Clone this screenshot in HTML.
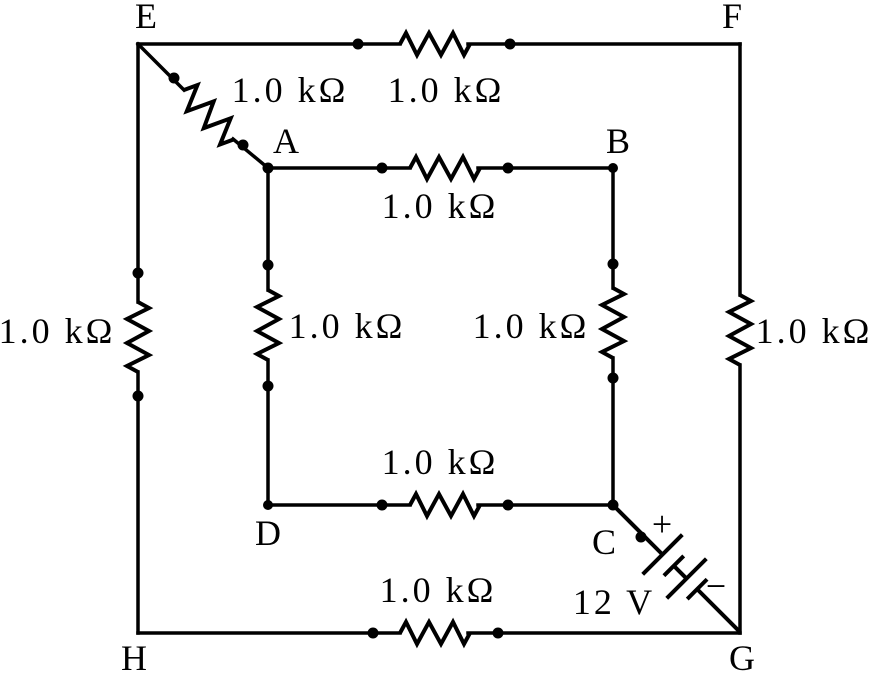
<!DOCTYPE html>
<html><head><meta charset="utf-8"><style>
html,body{margin:0;padding:0;background:#fff;}
svg{display:block}
text{font-family:"Liberation Serif",serif;font-size:36px;fill:#000}
.r{letter-spacing:3px}
</style></head><body>
<svg width="870" height="673" viewBox="0 0 870 673" xmlns="http://www.w3.org/2000/svg">
<defs>
<polyline id="z" points="0,0 6,-11 17,11 29,-11 41,11 53,-11 64,11 70,0" fill="none" stroke="#000" stroke-width="4" stroke-linejoin="miter"/>
<polyline id="zd" points="0,0 6,-13 17,13 29,-13 41,13 53,-13 64,13 70,0" fill="none" stroke="#000" stroke-width="4" stroke-linejoin="miter"/>
</defs>
<g stroke="#000" stroke-width="3.5" fill="none" stroke-linecap="square">
<line x1="138" y1="44" x2="400" y2="44"/><line x1="468" y1="44" x2="740" y2="44"/>
<line x1="740" y1="44" x2="740" y2="295"/><line x1="740" y1="365" x2="740" y2="633"/>
<line x1="138" y1="633" x2="400" y2="633"/><line x1="468" y1="633" x2="740" y2="633"/>
<line x1="138" y1="44" x2="138" y2="302"/><line x1="138" y1="372" x2="138" y2="633"/>
<line x1="268" y1="168" x2="410" y2="168"/><line x1="478" y1="168" x2="613" y2="168"/>
<line x1="268" y1="505" x2="410" y2="505"/><line x1="478" y1="505" x2="613" y2="505"/>
<line x1="268" y1="168" x2="268" y2="290"/><line x1="268" y1="360" x2="268" y2="505"/>
<line x1="613" y1="168" x2="613" y2="288"/><line x1="613" y1="358" x2="613" y2="505"/>
<line x1="138" y1="44" x2="184" y2="90"/><line x1="233" y1="139" x2="268" y2="168"/>
</g>
<use href="#z" transform="translate(400,44)"/>
<use href="#z" transform="translate(410,168)"/>
<use href="#z" transform="translate(410,505)"/>
<use href="#z" transform="translate(400,633)"/>
<use href="#z" transform="translate(138,302) rotate(90)"/>
<use href="#z" transform="translate(268,290) rotate(90)"/>
<use href="#z" transform="translate(613,288) rotate(90)"/>
<use href="#z" transform="translate(740,295) rotate(90)"/>
<use href="#zd" transform="translate(184,90) rotate(45)"/>
<g transform="translate(613,505) rotate(45)" stroke="#000" stroke-width="4">
<line x1="0" y1="0" x2="70" y2="0"/>
<line x1="70" y1="-28" x2="70" y2="28"/>
<line x1="86" y1="-14" x2="86" y2="14"/>
<line x1="86" y1="0" x2="104" y2="0"/>
<line x1="104" y1="-28" x2="104" y2="28"/>
<line x1="119" y1="-14" x2="119" y2="14"/>
<line x1="119" y1="0" x2="180" y2="0"/>
</g>
<g fill="#000">
<circle cx="358" cy="44" r="5.5"/><circle cx="510" cy="44" r="5.5"/>
<circle cx="382" cy="168" r="5.5"/><circle cx="508" cy="168" r="5.5"/>
<circle cx="382" cy="505" r="5.5"/><circle cx="508" cy="505" r="5.5"/>
<circle cx="373" cy="633" r="5.5"/><circle cx="498" cy="633" r="5.5"/>
<circle cx="138" cy="273" r="5.5"/><circle cx="138" cy="396" r="5.5"/>
<circle cx="268" cy="265" r="5.5"/><circle cx="268" cy="386" r="5.5"/>
<circle cx="613" cy="264" r="5.5"/><circle cx="613" cy="378" r="5.5"/>
<circle cx="174" cy="78" r="5.5"/><circle cx="243" cy="145" r="5.5"/>
<circle cx="641" cy="537" r="5.5"/>
<circle cx="268" cy="168" r="5.5"/><circle cx="613" cy="168" r="5"/>
<circle cx="268" cy="505" r="5"/><circle cx="613" cy="505" r="5.5"/>
</g>
<g text-anchor="middle">
<text x="146" y="28">E</text><text x="732" y="28">F</text>
<text x="286" y="153">A</text><text x="618" y="153">B</text>
<text x="604" y="554">C</text><text x="268" y="545">D</text>
<text x="134" y="670">H</text><text x="742" y="670">G</text>
<text class="r" x="290" y="102">1.0 kΩ</text>
<text class="r" x="446" y="102">1.0 kΩ</text>
<text class="r" x="440" y="218">1.0 kΩ</text>
<text class="r" x="57" y="343">1.0 kΩ</text>
<text class="r" x="347" y="338">1.0 kΩ</text>
<text class="r" x="531" y="338">1.0 kΩ</text>
<text class="r" x="814" y="343">1.0 kΩ</text>
<text class="r" x="440" y="474">1.0 kΩ</text>
<text class="r" x="438" y="602">1.0 kΩ</text>
<text class="r" x="614" y="614">12 V</text>
<text x="662" y="536">+</text>
<text x="716" y="598">−</text>
</g>
</svg>
</body></html>
